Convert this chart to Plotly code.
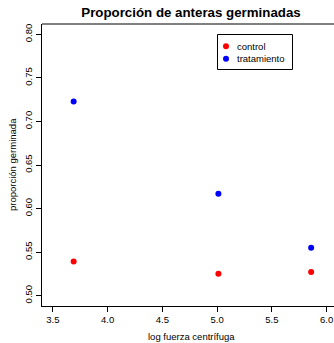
import plotly.graph_objects as go

log_fuerza = [3.689, 5.011, 5.858]
control = [0.539, 0.525, 0.527]
tratamiento = [0.723, 0.617, 0.555]
series_names = ["control", "tratamiento"]
series_colors = ["#FF0000", "#0000FF"]
x_ticks = [3.5, 4.0, 4.5, 5.0, 5.5, 6.0]
y_ticks = [0.50, 0.55, 0.60, 0.65, 0.70, 0.75, 0.80]

FONT = "Liberation Sans, Arial, Helvetica, sans-serif"

# plot area in page pixels
L, R, T, B = 42, 334, 24, 306
W, H = R - L, B - T
def px(x): return (x - L) / W
def py(y): return (B - y) / H

fig = go.Figure()
for name, vals, col in zip(series_names, [control, tratamiento], series_colors):
    fig.add_trace(go.Scatter(x=log_fuerza, y=vals, mode="markers", name=name,
                             marker=dict(color=col, size=6, line=dict(width=0))))

fig.update_layout(
    width=334, height=343,
    margin=dict(l=L, r=334 - R, t=T, b=343 - B),
    paper_bgcolor="white", plot_bgcolor="white",
    font=dict(family=FONT, color="black", size=9.5),
    showlegend=False,
    title=dict(text="<b>Proporción de anteras germinadas</b>", x=191 / 334, xanchor="center",
               y=1 - 12 / 343, yanchor="middle", font=dict(size=13.3, family=FONT)),
)
fig.update_xaxes(range=[3.4, 3.4 + W / 109.5], tickvals=x_ticks, ticktext=[f"{v:.1f}" for v in x_ticks],
                 showgrid=False, zeroline=False, showline=True, linecolor="black", linewidth=1,
                 ticks="outside", ticklen=5, tickcolor="black", tickfont=dict(size=9.5))
fig.update_yaxes(range=[0.488, 0.812], tickvals=y_ticks, ticktext=[f"{v:.2f}" for v in y_ticks],
                 showgrid=False, zeroline=False, showline=True, linecolor="black", linewidth=1,
                 ticks="outside", ticklen=5, tickcolor="black", tickangle=-90, tickfont=dict(size=9.5))
# top border of box
fig.add_shape(type="line", xref="paper", yref="paper", x0=0, x1=1, y0=1, y1=1,
              line=dict(color="black", width=1))
# axis titles
fig.add_annotation(text="log fuerza centrífuga", xref="paper", yref="paper", x=px(191), y=py(336),
                   showarrow=False, font=dict(size=9.5), xanchor="center", yanchor="middle")
fig.add_annotation(text="proporción germinada", xref="paper", yref="paper", x=px(12), y=0.5,
                   textangle=-90, showarrow=False, font=dict(size=9.5), xanchor="center", yanchor="middle")
# legend (drawn manually)
fig.add_shape(type="rect", xref="paper", yref="paper", x0=px(217.5), x1=px(292.5), y0=py(69.5), y1=py(34.5),
              line=dict(color="black", width=1), fillcolor="white", layer="above")
for i, (name, col) in enumerate(zip(series_names, series_colors)):
    yc = 46.3 + i * 12.5
    fig.add_shape(type="circle", xref="paper", yref="paper", xsizemode="pixel", ysizemode="pixel",
                  xanchor=px(226), yanchor=py(yc), x0=-3, x1=3, y0=-3, y1=3,
                  fillcolor=col, line=dict(width=0), layer="above")
    fig.add_annotation(text=name, xref="paper", yref="paper", x=px(235), y=py(yc),
                       showarrow=False, xanchor="left", yanchor="middle", font=dict(size=9.5))

fig.write_html("out.html", post_script="document.body.style.margin='0';",
               config={"displayModeBar": False})
